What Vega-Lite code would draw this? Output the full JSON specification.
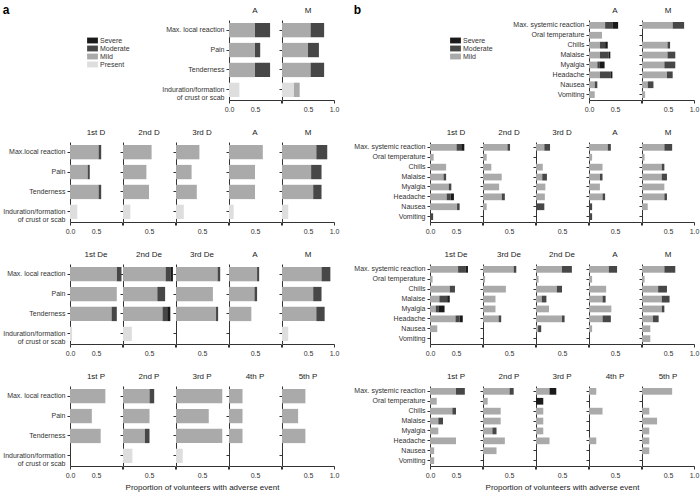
{
"padding":{"left":2,"top":4,"right":2,"bottom":2},
"config":{
"view":{"stroke":null},
"font":"Liberation Sans",
"axis":{"labelFont":"Liberation Sans","labelFontSize":7,"labelColor":"#333","domainColor":"#333","tickColor":"#333","tickSize":3,"grid":false,"labelPadding":2,"titleFont":"Liberation Sans","titleFontSize":8,"titleFontWeight":"normal","titleColor":"#222"},
"axisX":{"tickCount":2,"format":".1f","labelFlush":false,"labelOverlap":false,"titlePadding":5},
"axisY":{"labelLineHeight":8},
"title":{"font":"Liberation Sans","fontSize":8,"fontWeight":"normal","color":"#222","offset":5},
"legend":{"labelFont":"Liberation Sans","labelFontSize":7,"labelColor":"#333","symbolType":"M-1.2,-0.65H1.2V0.65H-1.2Z","symbolSize":81,"symbolStrokeWidth":0,"rowPadding":0,"labelOffset":3,"padding":16}
},
"datasets":{
"a":[
{"r":1,"p":"A","c":"Max. local reaction","s":"Mild","v":0.5,"k":1},
{"r":1,"p":"A","c":"Max. local reaction","s":"Moderate","v":0.29,"k":2},
{"r":1,"p":"A","c":"Pain","s":"Mild","v":0.5,"k":1},
{"r":1,"p":"A","c":"Pain","s":"Moderate","v":0.1,"k":2},
{"r":1,"p":"A","c":"Tenderness","s":"Mild","v":0.5,"k":1},
{"r":1,"p":"A","c":"Tenderness","s":"Moderate","v":0.29,"k":2},
{"r":1,"p":"A","c":"Induration/formation of crust or scab","s":"Present","v":0.2,"k":0},
{"r":1,"p":"M","c":"Max. local reaction","s":"Mild","v":0.55,"k":1},
{"r":1,"p":"M","c":"Max. local reaction","s":"Moderate","v":0.26,"k":2},
{"r":1,"p":"M","c":"Pain","s":"Mild","v":0.5,"k":1},
{"r":1,"p":"M","c":"Pain","s":"Moderate","v":0.21,"k":2},
{"r":1,"p":"M","c":"Tenderness","s":"Mild","v":0.55,"k":1},
{"r":1,"p":"M","c":"Tenderness","s":"Moderate","v":0.26,"k":2},
{"r":1,"p":"M","c":"Induration/formation of crust or scab","s":"Present","v":0.23,"k":0},
{"r":1,"p":"M","c":"Induration/formation of crust or scab","s":"Mild","v":0.11,"k":1},
{"r":2,"p":"1st D","c":"Max. local reaction","s":"Mild","v":0.55,"k":1},
{"r":2,"p":"1st D","c":"Max. local reaction","s":"Moderate","v":0.05,"k":2},
{"r":2,"p":"1st D","c":"Pain","s":"Mild","v":0.34,"k":1},
{"r":2,"p":"1st D","c":"Pain","s":"Moderate","v":0.04,"k":2},
{"r":2,"p":"1st D","c":"Tenderness","s":"Mild","v":0.55,"k":1},
{"r":2,"p":"1st D","c":"Tenderness","s":"Moderate","v":0.05,"k":2},
{"r":2,"p":"1st D","c":"Induration/formation of crust or scab","s":"Present","v":0.14,"k":0},
{"r":2,"p":"2nd D","c":"Max. local reaction","s":"Mild","v":0.55,"k":1},
{"r":2,"p":"2nd D","c":"Pain","s":"Mild","v":0.45,"k":1},
{"r":2,"p":"2nd D","c":"Tenderness","s":"Mild","v":0.5,"k":1},
{"r":2,"p":"2nd D","c":"Induration/formation of crust or scab","s":"Present","v":0.14,"k":0},
{"r":2,"p":"3rd D","c":"Max. local reaction","s":"Mild","v":0.45,"k":1},
{"r":2,"p":"3rd D","c":"Pain","s":"Mild","v":0.3,"k":1},
{"r":2,"p":"3rd D","c":"Tenderness","s":"Mild","v":0.4,"k":1},
{"r":2,"p":"3rd D","c":"Induration/formation of crust or scab","s":"Present","v":0.15,"k":0},
{"r":2,"p":"A","c":"Max. local reaction","s":"Mild","v":0.65,"k":1},
{"r":2,"p":"A","c":"Pain","s":"Mild","v":0.5,"k":1},
{"r":2,"p":"A","c":"Tenderness","s":"Mild","v":0.5,"k":1},
{"r":2,"p":"A","c":"Induration/formation of crust or scab","s":"Present","v":0.09,"k":0},
{"r":2,"p":"M","c":"Max. local reaction","s":"Mild","v":0.66,"k":1},
{"r":2,"p":"M","c":"Max. local reaction","s":"Moderate","v":0.21,"k":2},
{"r":2,"p":"M","c":"Pain","s":"Mild","v":0.56,"k":1},
{"r":2,"p":"M","c":"Pain","s":"Moderate","v":0.2,"k":2},
{"r":2,"p":"M","c":"Tenderness","s":"Mild","v":0.6,"k":1},
{"r":2,"p":"M","c":"Tenderness","s":"Moderate","v":0.16,"k":2},
{"r":2,"p":"M","c":"Induration/formation of crust or scab","s":"Present","v":0.12,"k":0},
{"r":3,"p":"1st De","c":"Max. local reaction","s":"Mild","v":0.9,"k":1},
{"r":3,"p":"1st De","c":"Max. local reaction","s":"Moderate","v":0.09,"k":2},
{"r":3,"p":"1st De","c":"Pain","s":"Mild","v":0.9,"k":1},
{"r":3,"p":"1st De","c":"Tenderness","s":"Mild","v":0.8,"k":1},
{"r":3,"p":"1st De","c":"Tenderness","s":"Moderate","v":0.1,"k":2},
{"r":3,"p":"1st De","c":"Induration/formation of crust or scab","s":"Present","v":0.04,"k":0},
{"r":3,"p":"2nd De","c":"Max. local reaction","s":"Mild","v":0.82,"k":1},
{"r":3,"p":"2nd De","c":"Max. local reaction","s":"Moderate","v":0.09,"k":2},
{"r":3,"p":"2nd De","c":"Max. local reaction","s":"Severe","v":0.05,"k":3},
{"r":3,"p":"2nd De","c":"Pain","s":"Mild","v":0.66,"k":1},
{"r":3,"p":"2nd De","c":"Pain","s":"Moderate","v":0.15,"k":2},
{"r":3,"p":"2nd De","c":"Tenderness","s":"Mild","v":0.76,"k":1},
{"r":3,"p":"2nd De","c":"Tenderness","s":"Moderate","v":0.09,"k":2},
{"r":3,"p":"2nd De","c":"Tenderness","s":"Severe","v":0.06,"k":3},
{"r":3,"p":"2nd De","c":"Induration/formation of crust or scab","s":"Present","v":0.17,"k":0},
{"r":3,"p":"3rd De","c":"Max. local reaction","s":"Mild","v":0.8,"k":1},
{"r":3,"p":"3rd De","c":"Max. local reaction","s":"Moderate","v":0.05,"k":2},
{"r":3,"p":"3rd De","c":"Pain","s":"Mild","v":0.71,"k":1},
{"r":3,"p":"3rd De","c":"Tenderness","s":"Mild","v":0.77,"k":1},
{"r":3,"p":"3rd De","c":"Tenderness","s":"Moderate","v":0.04,"k":2},
{"r":3,"p":"A","c":"Max. local reaction","s":"Mild","v":0.54,"k":1},
{"r":3,"p":"A","c":"Max. local reaction","s":"Moderate","v":0.04,"k":2},
{"r":3,"p":"A","c":"Pain","s":"Mild","v":0.49,"k":1},
{"r":3,"p":"A","c":"Pain","s":"Moderate","v":0.05,"k":2},
{"r":3,"p":"A","c":"Tenderness","s":"Mild","v":0.43,"k":1},
{"r":3,"p":"M","c":"Max. local reaction","s":"Mild","v":0.76,"k":1},
{"r":3,"p":"M","c":"Max. local reaction","s":"Moderate","v":0.17,"k":2},
{"r":3,"p":"M","c":"Pain","s":"Mild","v":0.6,"k":1},
{"r":3,"p":"M","c":"Pain","s":"Moderate","v":0.16,"k":2},
{"r":3,"p":"M","c":"Tenderness","s":"Mild","v":0.66,"k":1},
{"r":3,"p":"M","c":"Tenderness","s":"Moderate","v":0.16,"k":2},
{"r":3,"p":"M","c":"Induration/formation of crust or scab","s":"Present","v":0.12,"k":0},
{"r":4,"p":"1st P","c":"Max. local reaction","s":"Mild","v":0.68,"k":1},
{"r":4,"p":"1st P","c":"Pain","s":"Mild","v":0.42,"k":1},
{"r":4,"p":"1st P","c":"Tenderness","s":"Mild","v":0.59,"k":1},
{"r":4,"p":"2nd P","c":"Max. local reaction","s":"Mild","v":0.51,"k":1},
{"r":4,"p":"2nd P","c":"Max. local reaction","s":"Moderate","v":0.09,"k":2},
{"r":4,"p":"2nd P","c":"Pain","s":"Mild","v":0.51,"k":1},
{"r":4,"p":"2nd P","c":"Tenderness","s":"Mild","v":0.42,"k":1},
{"r":4,"p":"2nd P","c":"Tenderness","s":"Moderate","v":0.09,"k":2},
{"r":4,"p":"2nd P","c":"Induration/formation of crust or scab","s":"Present","v":0.18,"k":0},
{"r":4,"p":"3rd P","c":"Max. local reaction","s":"Mild","v":0.89,"k":1},
{"r":4,"p":"3rd P","c":"Pain","s":"Mild","v":0.63,"k":1},
{"r":4,"p":"3rd P","c":"Tenderness","s":"Mild","v":0.89,"k":1},
{"r":4,"p":"3rd P","c":"Induration/formation of crust or scab","s":"Present","v":0.13,"k":0},
{"r":4,"p":"4th P","c":"Max. local reaction","s":"Mild","v":0.26,"k":1},
{"r":4,"p":"4th P","c":"Pain","s":"Mild","v":0.26,"k":1},
{"r":4,"p":"4th P","c":"Tenderness","s":"Mild","v":0.26,"k":1},
{"r":4,"p":"5th P","c":"Max. local reaction","s":"Mild","v":0.45,"k":1},
{"r":4,"p":"5th P","c":"Pain","s":"Mild","v":0.31,"k":1},
{"r":4,"p":"5th P","c":"Tenderness","s":"Mild","v":0.45,"k":1}
],
"b":[
{"r":1,"p":"A","c":"Max. systemic reaction","s":"Mild","v":0.31,"k":1},
{"r":1,"p":"A","c":"Max. systemic reaction","s":"Moderate","v":0.15,"k":2},
{"r":1,"p":"A","c":"Max. systemic reaction","s":"Severe","v":0.1,"k":3},
{"r":1,"p":"A","c":"Oral temperature","s":"Mild","v":0.25,"k":1},
{"r":1,"p":"A","c":"Chills","s":"Mild","v":0.21,"k":1},
{"r":1,"p":"A","c":"Chills","s":"Moderate","v":0.1,"k":2},
{"r":1,"p":"A","c":"Chills","s":"Severe","v":0.05,"k":3},
{"r":1,"p":"A","c":"Malaise","s":"Mild","v":0.21,"k":1},
{"r":1,"p":"A","c":"Malaise","s":"Moderate","v":0.17,"k":2},
{"r":1,"p":"A","c":"Malaise","s":"Severe","v":0.03,"k":3},
{"r":1,"p":"A","c":"Myalgia","s":"Mild","v":0.16,"k":1},
{"r":1,"p":"A","c":"Myalgia","s":"Moderate","v":0.05,"k":2},
{"r":1,"p":"A","c":"Myalgia","s":"Severe","v":0.09,"k":3},
{"r":1,"p":"A","c":"Headache","s":"Mild","v":0.21,"k":1},
{"r":1,"p":"A","c":"Headache","s":"Moderate","v":0.21,"k":2},
{"r":1,"p":"A","c":"Headache","s":"Severe","v":0.03,"k":3},
{"r":1,"p":"A","c":"Nausea","s":"Mild","v":0.11,"k":1},
{"r":1,"p":"A","c":"Nausea","s":"Moderate","v":0.05,"k":2},
{"r":1,"p":"A","c":"Vomiting","s":"Mild","v":0.11,"k":1},
{"r":1,"p":"M","c":"Max. systemic reaction","s":"Mild","v":0.59,"k":1},
{"r":1,"p":"M","c":"Max. systemic reaction","s":"Moderate","v":0.22,"k":2},
{"r":1,"p":"M","c":"Chills","s":"Mild","v":0.49,"k":1},
{"r":1,"p":"M","c":"Chills","s":"Moderate","v":0.05,"k":2},
{"r":1,"p":"M","c":"Malaise","s":"Mild","v":0.49,"k":1},
{"r":1,"p":"M","c":"Malaise","s":"Moderate","v":0.15,"k":2},
{"r":1,"p":"M","c":"Myalgia","s":"Mild","v":0.43,"k":1},
{"r":1,"p":"M","c":"Myalgia","s":"Moderate","v":0.21,"k":2},
{"r":1,"p":"M","c":"Headache","s":"Mild","v":0.48,"k":1},
{"r":1,"p":"M","c":"Headache","s":"Moderate","v":0.11,"k":2},
{"r":1,"p":"M","c":"Nausea","s":"Mild","v":0.11,"k":1},
{"r":1,"p":"M","c":"Nausea","s":"Moderate","v":0.11,"k":2},
{"r":1,"p":"M","c":"Vomiting","s":"Mild","v":0.06,"k":1},
{"r":2,"p":"1st D","c":"Max. systemic reaction","s":"Mild","v":0.51,"k":1},
{"r":2,"p":"1st D","c":"Max. systemic reaction","s":"Moderate","v":0.09,"k":2},
{"r":2,"p":"1st D","c":"Max. systemic reaction","s":"Severe","v":0.06,"k":3},
{"r":2,"p":"1st D","c":"Oral temperature","s":"Mild","v":0.07,"k":1},
{"r":2,"p":"1st D","c":"Chills","s":"Mild","v":0.31,"k":1},
{"r":2,"p":"1st D","c":"Malaise","s":"Mild","v":0.26,"k":1},
{"r":2,"p":"1st D","c":"Malaise","s":"Moderate","v":0.05,"k":2},
{"r":2,"p":"1st D","c":"Myalgia","s":"Mild","v":0.36,"k":1},
{"r":2,"p":"1st D","c":"Myalgia","s":"Moderate","v":0.05,"k":2},
{"r":2,"p":"1st D","c":"Headache","s":"Mild","v":0.32,"k":1},
{"r":2,"p":"1st D","c":"Headache","s":"Moderate","v":0.08,"k":2},
{"r":2,"p":"1st D","c":"Headache","s":"Severe","v":0.06,"k":3},
{"r":2,"p":"1st D","c":"Nausea","s":"Mild","v":0.52,"k":1},
{"r":2,"p":"1st D","c":"Nausea","s":"Moderate","v":0.05,"k":2},
{"r":2,"p":"1st D","c":"Vomiting","s":"Moderate","v":0.06,"k":2},
{"r":2,"p":"2nd D","c":"Max. systemic reaction","s":"Mild","v":0.47,"k":1},
{"r":2,"p":"2nd D","c":"Max. systemic reaction","s":"Moderate","v":0.05,"k":2},
{"r":2,"p":"2nd D","c":"Oral temperature","s":"Mild","v":0.07,"k":1},
{"r":2,"p":"2nd D","c":"Chills","s":"Mild","v":0.16,"k":1},
{"r":2,"p":"2nd D","c":"Malaise","s":"Mild","v":0.36,"k":1},
{"r":2,"p":"2nd D","c":"Myalgia","s":"Mild","v":0.31,"k":1},
{"r":2,"p":"2nd D","c":"Headache","s":"Mild","v":0.36,"k":1},
{"r":2,"p":"2nd D","c":"Headache","s":"Moderate","v":0.06,"k":2},
{"r":2,"p":"2nd D","c":"Nausea","s":"Mild","v":0.07,"k":1},
{"r":2,"p":"3rd D","c":"Max. systemic reaction","s":"Mild","v":0.16,"k":1},
{"r":2,"p":"3rd D","c":"Max. systemic reaction","s":"Moderate","v":0.11,"k":2},
{"r":2,"p":"3rd D","c":"Chills","s":"Mild","v":0.13,"k":1},
{"r":2,"p":"3rd D","c":"Malaise","s":"Mild","v":0.12,"k":1},
{"r":2,"p":"3rd D","c":"Malaise","s":"Moderate","v":0.09,"k":2},
{"r":2,"p":"3rd D","c":"Myalgia","s":"Mild","v":0.18,"k":1},
{"r":2,"p":"3rd D","c":"Headache","s":"Mild","v":0.17,"k":1},
{"r":2,"p":"3rd D","c":"Nausea","s":"Moderate","v":0.16,"k":2},
{"r":2,"p":"A","c":"Max. systemic reaction","s":"Mild","v":0.36,"k":1},
{"r":2,"p":"A","c":"Max. systemic reaction","s":"Moderate","v":0.06,"k":2},
{"r":2,"p":"A","c":"Oral temperature","s":"Mild","v":0.06,"k":1},
{"r":2,"p":"A","c":"Chills","s":"Mild","v":0.26,"k":1},
{"r":2,"p":"A","c":"Malaise","s":"Mild","v":0.21,"k":1},
{"r":2,"p":"A","c":"Malaise","s":"Moderate","v":0.05,"k":2},
{"r":2,"p":"A","c":"Myalgia","s":"Mild","v":0.21,"k":1},
{"r":2,"p":"A","c":"Headache","s":"Mild","v":0.26,"k":1},
{"r":2,"p":"A","c":"Headache","s":"Moderate","v":0.05,"k":2},
{"r":2,"p":"A","c":"Nausea","s":"Moderate","v":0.06,"k":2},
{"r":2,"p":"A","c":"Vomiting","s":"Moderate","v":0.06,"k":2},
{"r":2,"p":"M","c":"Max. systemic reaction","s":"Mild","v":0.43,"k":1},
{"r":2,"p":"M","c":"Max. systemic reaction","s":"Moderate","v":0.15,"k":2},
{"r":2,"p":"M","c":"Oral temperature","s":"Mild","v":0.05,"k":1},
{"r":2,"p":"M","c":"Chills","s":"Mild","v":0.38,"k":1},
{"r":2,"p":"M","c":"Chills","s":"Moderate","v":0.05,"k":2},
{"r":2,"p":"M","c":"Malaise","s":"Mild","v":0.38,"k":1},
{"r":2,"p":"M","c":"Malaise","s":"Moderate","v":0.1,"k":2},
{"r":2,"p":"M","c":"Myalgia","s":"Mild","v":0.43,"k":1},
{"r":2,"p":"M","c":"Headache","s":"Mild","v":0.43,"k":1},
{"r":2,"p":"M","c":"Headache","s":"Moderate","v":0.05,"k":2},
{"r":2,"p":"M","c":"Nausea","s":"Mild","v":0.11,"k":1},
{"r":3,"p":"1st De","c":"Max. systemic reaction","s":"Mild","v":0.54,"k":1},
{"r":3,"p":"1st De","c":"Max. systemic reaction","s":"Moderate","v":0.15,"k":2},
{"r":3,"p":"1st De","c":"Max. systemic reaction","s":"Severe","v":0.04,"k":3},
{"r":3,"p":"1st De","c":"Oral temperature","s":"Mild","v":0.05,"k":1},
{"r":3,"p":"1st De","c":"Chills","s":"Mild","v":0.38,"k":1},
{"r":3,"p":"1st De","c":"Chills","s":"Moderate","v":0.1,"k":2},
{"r":3,"p":"1st De","c":"Malaise","s":"Mild","v":0.18,"k":1},
{"r":3,"p":"1st De","c":"Malaise","s":"Moderate","v":0.15,"k":2},
{"r":3,"p":"1st De","c":"Malaise","s":"Severe","v":0.05,"k":3},
{"r":3,"p":"1st De","c":"Myalgia","s":"Mild","v":0.11,"k":1},
{"r":3,"p":"1st De","c":"Myalgia","s":"Moderate","v":0.05,"k":2},
{"r":3,"p":"1st De","c":"Myalgia","s":"Severe","v":0.12,"k":3},
{"r":3,"p":"1st De","c":"Headache","s":"Mild","v":0.49,"k":1},
{"r":3,"p":"1st De","c":"Headache","s":"Moderate","v":0.08,"k":2},
{"r":3,"p":"1st De","c":"Headache","s":"Severe","v":0.06,"k":3},
{"r":3,"p":"1st De","c":"Nausea","s":"Mild","v":0.14,"k":1},
{"r":3,"p":"3rd De","c":"Max. systemic reaction","s":"Mild","v":0.59,"k":1},
{"r":3,"p":"3rd De","c":"Max. systemic reaction","s":"Moderate","v":0.05,"k":2},
{"r":3,"p":"3rd De","c":"Oral temperature","s":"Mild","v":0.04,"k":1},
{"r":3,"p":"3rd De","c":"Chills","s":"Mild","v":0.44,"k":1},
{"r":3,"p":"3rd De","c":"Malaise","s":"Mild","v":0.24,"k":1},
{"r":3,"p":"3rd De","c":"Myalgia","s":"Mild","v":0.24,"k":1},
{"r":3,"p":"3rd De","c":"Headache","s":"Mild","v":0.3,"k":1},
{"r":3,"p":"3rd De","c":"Headache","s":"Moderate","v":0.05,"k":2},
{"r":3,"p":"2nd De","c":"Max. systemic reaction","s":"Mild","v":0.5,"k":1},
{"r":3,"p":"2nd De","c":"Max. systemic reaction","s":"Moderate","v":0.19,"k":2},
{"r":3,"p":"2nd De","c":"Oral temperature","s":"Mild","v":0.05,"k":1},
{"r":3,"p":"2nd De","c":"Chills","s":"Mild","v":0.4,"k":1},
{"r":3,"p":"2nd De","c":"Chills","s":"Moderate","v":0.1,"k":2},
{"r":3,"p":"2nd De","c":"Malaise","s":"Mild","v":0.11,"k":1},
{"r":3,"p":"2nd De","c":"Malaise","s":"Moderate","v":0.09,"k":2},
{"r":3,"p":"2nd De","c":"Myalgia","s":"Mild","v":0.25,"k":1},
{"r":3,"p":"2nd De","c":"Headache","s":"Mild","v":0.5,"k":1},
{"r":3,"p":"2nd De","c":"Headache","s":"Moderate","v":0.05,"k":2},
{"r":3,"p":"2nd De","c":"Nausea","s":"Mild","v":0.04,"k":1},
{"r":3,"p":"2nd De","c":"Nausea","s":"Moderate","v":0.06,"k":2},
{"r":3,"p":"A","c":"Max. systemic reaction","s":"Mild","v":0.38,"k":1},
{"r":3,"p":"A","c":"Max. systemic reaction","s":"Moderate","v":0.16,"k":2},
{"r":3,"p":"A","c":"Oral temperature","s":"Mild","v":0.06,"k":1},
{"r":3,"p":"A","c":"Chills","s":"Mild","v":0.33,"k":1},
{"r":3,"p":"A","c":"Malaise","s":"Mild","v":0.26,"k":1},
{"r":3,"p":"A","c":"Malaise","s":"Moderate","v":0.06,"k":2},
{"r":3,"p":"A","c":"Myalgia","s":"Mild","v":0.43,"k":1},
{"r":3,"p":"A","c":"Headache","s":"Mild","v":0.26,"k":1},
{"r":3,"p":"A","c":"Headache","s":"Moderate","v":0.16,"k":2},
{"r":3,"p":"A","c":"Nausea","s":"Mild","v":0.06,"k":1},
{"r":3,"p":"M","c":"Max. systemic reaction","s":"Mild","v":0.43,"k":1},
{"r":3,"p":"M","c":"Max. systemic reaction","s":"Moderate","v":0.21,"k":2},
{"r":3,"p":"M","c":"Oral temperature","s":"Mild","v":0.05,"k":1},
{"r":3,"p":"M","c":"Chills","s":"Mild","v":0.31,"k":1},
{"r":3,"p":"M","c":"Chills","s":"Moderate","v":0.17,"k":2},
{"r":3,"p":"M","c":"Malaise","s":"Mild","v":0.38,"k":1},
{"r":3,"p":"M","c":"Malaise","s":"Moderate","v":0.15,"k":2},
{"r":3,"p":"M","c":"Myalgia","s":"Mild","v":0.38,"k":1},
{"r":3,"p":"M","c":"Myalgia","s":"Moderate","v":0.05,"k":2},
{"r":3,"p":"M","c":"Headache","s":"Mild","v":0.21,"k":1},
{"r":3,"p":"M","c":"Headache","s":"Moderate","v":0.11,"k":2},
{"r":3,"p":"M","c":"Nausea","s":"Mild","v":0.16,"k":1},
{"r":3,"p":"M","c":"Vomiting","s":"Mild","v":0.16,"k":1},
{"r":4,"p":"1st P","c":"Max. systemic reaction","s":"Mild","v":0.5,"k":1},
{"r":4,"p":"1st P","c":"Max. systemic reaction","s":"Moderate","v":0.17,"k":2},
{"r":4,"p":"1st P","c":"Oral temperature","s":"Mild","v":0.13,"k":1},
{"r":4,"p":"1st P","c":"Chills","s":"Mild","v":0.43,"k":1},
{"r":4,"p":"1st P","c":"Chills","s":"Moderate","v":0.07,"k":2},
{"r":4,"p":"1st P","c":"Malaise","s":"Mild","v":0.16,"k":1},
{"r":4,"p":"1st P","c":"Malaise","s":"Moderate","v":0.09,"k":2},
{"r":4,"p":"1st P","c":"Myalgia","s":"Mild","v":0.16,"k":1},
{"r":4,"p":"1st P","c":"Headache","s":"Mild","v":0.5,"k":1},
{"r":4,"p":"1st P","c":"Nausea","s":"Mild","v":0.08,"k":1},
{"r":4,"p":"1st P","c":"Vomiting","s":"Mild","v":0.08,"k":1},
{"r":4,"p":"2nd P","c":"Max. systemic reaction","s":"Mild","v":0.51,"k":1},
{"r":4,"p":"2nd P","c":"Max. systemic reaction","s":"Moderate","v":0.08,"k":2},
{"r":4,"p":"2nd P","c":"Oral temperature","s":"Mild","v":0.09,"k":1},
{"r":4,"p":"2nd P","c":"Chills","s":"Mild","v":0.34,"k":1},
{"r":4,"p":"2nd P","c":"Malaise","s":"Mild","v":0.34,"k":1},
{"r":4,"p":"2nd P","c":"Myalgia","s":"Mild","v":0.18,"k":1},
{"r":4,"p":"2nd P","c":"Myalgia","s":"Moderate","v":0.08,"k":2},
{"r":4,"p":"2nd P","c":"Headache","s":"Mild","v":0.42,"k":1},
{"r":4,"p":"2nd P","c":"Nausea","s":"Mild","v":0.26,"k":1},
{"r":4,"p":"3rd P","c":"Max. systemic reaction","s":"Mild","v":0.26,"k":1},
{"r":4,"p":"3rd P","c":"Max. systemic reaction","s":"Severe","v":0.13,"k":3},
{"r":4,"p":"3rd P","c":"Oral temperature","s":"Severe","v":0.14,"k":3},
{"r":4,"p":"3rd P","c":"Chills","s":"Mild","v":0.14,"k":1},
{"r":4,"p":"3rd P","c":"Malaise","s":"Mild","v":0.14,"k":1},
{"r":4,"p":"3rd P","c":"Myalgia","s":"Mild","v":0.14,"k":1},
{"r":4,"p":"3rd P","c":"Headache","s":"Mild","v":0.26,"k":1},
{"r":4,"p":"4th P","c":"Max. systemic reaction","s":"Mild","v":0.14,"k":1},
{"r":4,"p":"4th P","c":"Chills","s":"Mild","v":0.26,"k":1},
{"r":4,"p":"4th P","c":"Headache","s":"Mild","v":0.14,"k":1},
{"r":4,"p":"5th P","c":"Max. systemic reaction","s":"Mild","v":0.58,"k":1},
{"r":4,"p":"5th P","c":"Chills","s":"Mild","v":0.14,"k":1},
{"r":4,"p":"5th P","c":"Malaise","s":"Mild","v":0.29,"k":1},
{"r":4,"p":"5th P","c":"Myalgia","s":"Mild","v":0.14,"k":1},
{"r":4,"p":"5th P","c":"Headache","s":"Mild","v":0.14,"k":1},
{"r":4,"p":"5th P","c":"Nausea","s":"Mild","v":0.14,"k":1}
]
},
"hconcat":[
{
"title":{"text":"a","anchor":"start","fontSize":12,"fontWeight":"bold","color":"#000","offset":-10},
"columns":5,"bounds":"flush","align":"all","spacing":{"row":42,"column":1},
"resolve":{"scale":{"color":"independent"},"legend":{"color":"independent"}},
"concat":[
{"width":52,"height":80,"data":{"values":[]},"mark":"point"},
{"width":52,"height":80,"data":{"values":[]},"mark":"point"},
{"width":52,"height":80,"data":{"values":[]},"mark":"point"},
{"width":52,"height":80,"title":"A","data":{"name":"a"},"transform":[{"filter":"datum.r==1&&datum.p=='A'"}],"mark":"bar","encoding":{"y":{"field":"c","type":"nominal","title":null,"scale":{"domain":["Max. local reaction","Pain","Tenderness","Induration/formation of crust or scab"],"paddingInner":0.28,"paddingOuter":0.15},"axis":{"labelExpr":"datum.value=='Induration/formation of crust or scab'?['Induration/formation','of crust or scab']:datum.value"}},"x":{"field":"v","type":"quantitative","title":null,"scale":{"domain":[0,1]},"axis":{"labelExpr":"datum.value==1?'':datum.label","tickOpacity":{"condition":{"test":"datum.value==0.5","value":0},"value":1}}},"color":{"field":"s","type":"nominal","title":null,"scale":{"domain":["Severe","Moderate","Mild","Present"],"range":["#1a1a1a","#474747","#aaaaaa","#dedede"]},"legend":{"orient":"left","offset":15}},"order":{"field":"k"}}},
{"width":52,"height":80,"title":"M","data":{"name":"a"},"transform":[{"filter":"datum.r==1&&datum.p=='M'"}],"mark":"bar","encoding":{"y":{"field":"c","type":"nominal","title":null,"scale":{"domain":["Max. local reaction","Pain","Tenderness","Induration/formation of crust or scab"],"paddingInner":0.28,"paddingOuter":0.15},"axis":{"labels":false}},"x":{"field":"v","type":"quantitative","title":null,"scale":{"domain":[0,1]},"axis":{"labelExpr":"datum.value==0?'':datum.label","tickOpacity":{"condition":{"test":"datum.value==0.5","value":0},"value":1}}},"color":{"field":"s","type":"nominal","title":null,"scale":{"domain":["Severe","Moderate","Mild","Present"],"range":["#1a1a1a","#474747","#aaaaaa","#dedede"]},"legend":null},"order":{"field":"k"}}},
{"width":52,"height":80,"title":"1st D","data":{"name":"a"},"transform":[{"filter":"datum.r==2&&datum.p=='1st D'"}],"mark":"bar","encoding":{"y":{"field":"c","type":"nominal","title":null,"scale":{"domain":["Max. local reaction","Pain","Tenderness","Induration/formation of crust or scab"],"paddingInner":0.28,"paddingOuter":0.15},"axis":{"labelExpr":"datum.value=='Induration/formation of crust or scab'?['Induration/formation','of crust or scab']:datum.value=='Max. local reaction'?'Max.local reaction':datum.value"}},"x":{"field":"v","type":"quantitative","title":null,"scale":{"domain":[0,1]},"axis":{"labelExpr":"datum.value==1?'':datum.label","tickOpacity":{"condition":{"test":"datum.value==0.5","value":0},"value":1}}},"color":{"field":"s","type":"nominal","title":null,"scale":{"domain":["Severe","Moderate","Mild","Present"],"range":["#1a1a1a","#474747","#aaaaaa","#dedede"]},"legend":null},"order":{"field":"k"}}},
{"width":52,"height":80,"title":"2nd D","data":{"name":"a"},"transform":[{"filter":"datum.r==2&&datum.p=='2nd D'"}],"mark":"bar","encoding":{"y":{"field":"c","type":"nominal","title":null,"scale":{"domain":["Max. local reaction","Pain","Tenderness","Induration/formation of crust or scab"],"paddingInner":0.28,"paddingOuter":0.15},"axis":{"labels":false}},"x":{"field":"v","type":"quantitative","title":null,"scale":{"domain":[0,1]},"axis":{"labelExpr":"datum.value==0.5?datum.label:''","tickOpacity":{"condition":{"test":"datum.value==0.5","value":0},"value":1}}},"color":{"field":"s","type":"nominal","title":null,"scale":{"domain":["Severe","Moderate","Mild","Present"],"range":["#1a1a1a","#474747","#aaaaaa","#dedede"]},"legend":null},"order":{"field":"k"}}},
{"width":52,"height":80,"title":"3rd D","data":{"name":"a"},"transform":[{"filter":"datum.r==2&&datum.p=='3rd D'"}],"mark":"bar","encoding":{"y":{"field":"c","type":"nominal","title":null,"scale":{"domain":["Max. local reaction","Pain","Tenderness","Induration/formation of crust or scab"],"paddingInner":0.28,"paddingOuter":0.15},"axis":{"labels":false}},"x":{"field":"v","type":"quantitative","title":null,"scale":{"domain":[0,1]},"axis":{"labelExpr":"datum.value==0.5?datum.label:''","tickOpacity":{"condition":{"test":"datum.value==0.5","value":0},"value":1}}},"color":{"field":"s","type":"nominal","title":null,"scale":{"domain":["Severe","Moderate","Mild","Present"],"range":["#1a1a1a","#474747","#aaaaaa","#dedede"]},"legend":null},"order":{"field":"k"}}},
{"width":52,"height":80,"title":"A","data":{"name":"a"},"transform":[{"filter":"datum.r==2&&datum.p=='A'"}],"mark":"bar","encoding":{"y":{"field":"c","type":"nominal","title":null,"scale":{"domain":["Max. local reaction","Pain","Tenderness","Induration/formation of crust or scab"],"paddingInner":0.28,"paddingOuter":0.15},"axis":{"labels":false}},"x":{"field":"v","type":"quantitative","title":null,"scale":{"domain":[0,1]},"axis":{"labelExpr":"datum.value==0.5?datum.label:''","tickOpacity":{"condition":{"test":"datum.value==0.5","value":0},"value":1}}},"color":{"field":"s","type":"nominal","title":null,"scale":{"domain":["Severe","Moderate","Mild","Present"],"range":["#1a1a1a","#474747","#aaaaaa","#dedede"]},"legend":null},"order":{"field":"k"}}},
{"width":52,"height":80,"title":"M","data":{"name":"a"},"transform":[{"filter":"datum.r==2&&datum.p=='M'"}],"mark":"bar","encoding":{"y":{"field":"c","type":"nominal","title":null,"scale":{"domain":["Max. local reaction","Pain","Tenderness","Induration/formation of crust or scab"],"paddingInner":0.28,"paddingOuter":0.15},"axis":{"labels":false}},"x":{"field":"v","type":"quantitative","title":null,"scale":{"domain":[0,1]},"axis":{"labelExpr":"datum.value==0?'':datum.label","tickOpacity":{"condition":{"test":"datum.value==0.5","value":0},"value":1}}},"color":{"field":"s","type":"nominal","title":null,"scale":{"domain":["Severe","Moderate","Mild","Present"],"range":["#1a1a1a","#474747","#aaaaaa","#dedede"]},"legend":null},"order":{"field":"k"}}},
{"width":52,"height":80,"title":"1st De","data":{"name":"a"},"transform":[{"filter":"datum.r==3&&datum.p=='1st De'"}],"mark":"bar","encoding":{"y":{"field":"c","type":"nominal","title":null,"scale":{"domain":["Max. local reaction","Pain","Tenderness","Induration/formation of crust or scab"],"paddingInner":0.28,"paddingOuter":0.15},"axis":{"labelExpr":"datum.value=='Induration/formation of crust or scab'?['Induration/formation','of crust or scab']:datum.value"}},"x":{"field":"v","type":"quantitative","title":null,"scale":{"domain":[0,1]},"axis":{"labelExpr":"datum.value==1?'':datum.label","tickOpacity":{"condition":{"test":"datum.value==0.5","value":0},"value":1}}},"color":{"field":"s","type":"nominal","title":null,"scale":{"domain":["Severe","Moderate","Mild","Present"],"range":["#1a1a1a","#474747","#aaaaaa","#dedede"]},"legend":null},"order":{"field":"k"}}},
{"width":52,"height":80,"title":"2nd De","data":{"name":"a"},"transform":[{"filter":"datum.r==3&&datum.p=='2nd De'"}],"mark":"bar","encoding":{"y":{"field":"c","type":"nominal","title":null,"scale":{"domain":["Max. local reaction","Pain","Tenderness","Induration/formation of crust or scab"],"paddingInner":0.28,"paddingOuter":0.15},"axis":{"labels":false}},"x":{"field":"v","type":"quantitative","title":null,"scale":{"domain":[0,1]},"axis":{"labelExpr":"datum.value==0.5?datum.label:''","tickOpacity":{"condition":{"test":"datum.value==0.5","value":0},"value":1}}},"color":{"field":"s","type":"nominal","title":null,"scale":{"domain":["Severe","Moderate","Mild","Present"],"range":["#1a1a1a","#474747","#aaaaaa","#dedede"]},"legend":null},"order":{"field":"k"}}},
{"width":52,"height":80,"title":"3rd De","data":{"name":"a"},"transform":[{"filter":"datum.r==3&&datum.p=='3rd De'"}],"mark":"bar","encoding":{"y":{"field":"c","type":"nominal","title":null,"scale":{"domain":["Max. local reaction","Pain","Tenderness","Induration/formation of crust or scab"],"paddingInner":0.28,"paddingOuter":0.15},"axis":{"labels":false}},"x":{"field":"v","type":"quantitative","title":null,"scale":{"domain":[0,1]},"axis":{"labelExpr":"datum.value==0.5?datum.label:''","tickOpacity":{"condition":{"test":"datum.value==0.5","value":0},"value":1}}},"color":{"field":"s","type":"nominal","title":null,"scale":{"domain":["Severe","Moderate","Mild","Present"],"range":["#1a1a1a","#474747","#aaaaaa","#dedede"]},"legend":null},"order":{"field":"k"}}},
{"width":52,"height":80,"title":"A","data":{"name":"a"},"transform":[{"filter":"datum.r==3&&datum.p=='A'"}],"mark":"bar","encoding":{"y":{"field":"c","type":"nominal","title":null,"scale":{"domain":["Max. local reaction","Pain","Tenderness","Induration/formation of crust or scab"],"paddingInner":0.28,"paddingOuter":0.15},"axis":{"labels":false}},"x":{"field":"v","type":"quantitative","title":null,"scale":{"domain":[0,1]},"axis":{"labelExpr":"datum.value==0.5?datum.label:''","tickOpacity":{"condition":{"test":"datum.value==0.5","value":0},"value":1}}},"color":{"field":"s","type":"nominal","title":null,"scale":{"domain":["Severe","Moderate","Mild","Present"],"range":["#1a1a1a","#474747","#aaaaaa","#dedede"]},"legend":null},"order":{"field":"k"}}},
{"width":52,"height":80,"title":"M","data":{"name":"a"},"transform":[{"filter":"datum.r==3&&datum.p=='M'"}],"mark":"bar","encoding":{"y":{"field":"c","type":"nominal","title":null,"scale":{"domain":["Max. local reaction","Pain","Tenderness","Induration/formation of crust or scab"],"paddingInner":0.28,"paddingOuter":0.15},"axis":{"labels":false}},"x":{"field":"v","type":"quantitative","title":null,"scale":{"domain":[0,1]},"axis":{"labelExpr":"datum.value==0?'':datum.label","tickOpacity":{"condition":{"test":"datum.value==0.5","value":0},"value":1}}},"color":{"field":"s","type":"nominal","title":null,"scale":{"domain":["Severe","Moderate","Mild","Present"],"range":["#1a1a1a","#474747","#aaaaaa","#dedede"]},"legend":null},"order":{"field":"k"}}},
{"width":52,"height":80,"title":"1st P","data":{"name":"a"},"transform":[{"filter":"datum.r==4&&datum.p=='1st P'"}],"mark":"bar","encoding":{"y":{"field":"c","type":"nominal","title":null,"scale":{"domain":["Max. local reaction","Pain","Tenderness","Induration/formation of crust or scab"],"paddingInner":0.28,"paddingOuter":0.15},"axis":{"labelExpr":"datum.value=='Induration/formation of crust or scab'?['Induration/formation','of crust or scab']:datum.value"}},"x":{"field":"v","type":"quantitative","title":null,"scale":{"domain":[0,1]},"axis":{"labelExpr":"datum.value==1?'':datum.label","tickOpacity":{"condition":{"test":"datum.value==0.5","value":0},"value":1}}},"color":{"field":"s","type":"nominal","title":null,"scale":{"domain":["Severe","Moderate","Mild","Present"],"range":["#1a1a1a","#474747","#aaaaaa","#dedede"]},"legend":null},"order":{"field":"k"}}},
{"width":52,"height":80,"title":"2nd P","data":{"name":"a"},"transform":[{"filter":"datum.r==4&&datum.p=='2nd P'"}],"mark":"bar","encoding":{"y":{"field":"c","type":"nominal","title":null,"scale":{"domain":["Max. local reaction","Pain","Tenderness","Induration/formation of crust or scab"],"paddingInner":0.28,"paddingOuter":0.15},"axis":{"labels":false}},"x":{"field":"v","type":"quantitative","title":null,"scale":{"domain":[0,1]},"axis":{"labelExpr":"datum.value==0.5?datum.label:''","tickOpacity":{"condition":{"test":"datum.value==0.5","value":0},"value":1}}},"color":{"field":"s","type":"nominal","title":null,"scale":{"domain":["Severe","Moderate","Mild","Present"],"range":["#1a1a1a","#474747","#aaaaaa","#dedede"]},"legend":null},"order":{"field":"k"}}},
{"width":52,"height":80,"title":"3rd P","data":{"name":"a"},"transform":[{"filter":"datum.r==4&&datum.p=='3rd P'"}],"mark":"bar","encoding":{"y":{"field":"c","type":"nominal","title":null,"scale":{"domain":["Max. local reaction","Pain","Tenderness","Induration/formation of crust or scab"],"paddingInner":0.28,"paddingOuter":0.15},"axis":{"labels":false}},"x":{"field":"v","type":"quantitative","title":"Proportion of volunteers with adverse event","scale":{"domain":[0,1]},"axis":{"labelExpr":"datum.value==0.5?datum.label:''","tickOpacity":{"condition":{"test":"datum.value==0.5","value":0},"value":1}}},"color":{"field":"s","type":"nominal","title":null,"scale":{"domain":["Severe","Moderate","Mild","Present"],"range":["#1a1a1a","#474747","#aaaaaa","#dedede"]},"legend":null},"order":{"field":"k"}}},
{"width":52,"height":80,"title":"4th P","data":{"name":"a"},"transform":[{"filter":"datum.r==4&&datum.p=='4th P'"}],"mark":"bar","encoding":{"y":{"field":"c","type":"nominal","title":null,"scale":{"domain":["Max. local reaction","Pain","Tenderness","Induration/formation of crust or scab"],"paddingInner":0.28,"paddingOuter":0.15},"axis":{"labels":false}},"x":{"field":"v","type":"quantitative","title":null,"scale":{"domain":[0,1]},"axis":{"labelExpr":"datum.value==0.5?datum.label:''","tickOpacity":{"condition":{"test":"datum.value==0.5","value":0},"value":1}}},"color":{"field":"s","type":"nominal","title":null,"scale":{"domain":["Severe","Moderate","Mild","Present"],"range":["#1a1a1a","#474747","#aaaaaa","#dedede"]},"legend":null},"order":{"field":"k"}}},
{"width":52,"height":80,"title":"5th P","data":{"name":"a"},"transform":[{"filter":"datum.r==4&&datum.p=='5th P'"}],"mark":"bar","encoding":{"y":{"field":"c","type":"nominal","title":null,"scale":{"domain":["Max. local reaction","Pain","Tenderness","Induration/formation of crust or scab"],"paddingInner":0.28,"paddingOuter":0.15},"axis":{"labels":false}},"x":{"field":"v","type":"quantitative","title":null,"scale":{"domain":[0,1]},"axis":{"labelExpr":"datum.value==0?'':datum.label","tickOpacity":{"condition":{"test":"datum.value==0.5","value":0},"value":1}}},"color":{"field":"s","type":"nominal","title":null,"scale":{"domain":["Severe","Moderate","Mild","Present"],"range":["#1a1a1a","#474747","#aaaaaa","#dedede"]},"legend":null},"order":{"field":"k"}}}
]
},
{
"title":{"text":"b","anchor":"start","fontSize":12,"fontWeight":"bold","color":"#000","offset":-10},
"columns":5,"bounds":"flush","align":"all","spacing":{"row":42,"column":1},
"resolve":{"scale":{"color":"independent"},"legend":{"color":"independent"}},
"concat":[
{"width":52,"height":80,"data":{"values":[]},"mark":"point"},
{"width":52,"height":80,"data":{"values":[]},"mark":"point"},
{"width":52,"height":80,"data":{"values":[]},"mark":"point"},
{"width":52,"height":80,"title":"A","data":{"name":"b"},"transform":[{"filter":"datum.r==1&&datum.p=='A'"}],"mark":"bar","encoding":{"y":{"field":"c","type":"nominal","title":null,"scale":{"domain":["Max. systemic reaction","Oral temperature","Chills","Malaise","Myalgia","Headache","Nausea","Vomiting"],"paddingInner":0.32,"paddingOuter":0.2},"axis":{}},"x":{"field":"v","type":"quantitative","title":null,"scale":{"domain":[0,1]},"axis":{"labelExpr":"datum.value==1?'':datum.label","tickOpacity":{"condition":{"test":"datum.value==0.5","value":0},"value":1}}},"color":{"field":"s","type":"nominal","title":null,"scale":{"domain":["Severe","Moderate","Mild"],"range":["#1a1a1a","#474747","#aaaaaa"]},"legend":{"orient":"left","offset":3}},"order":{"field":"k"}}},
{"width":52,"height":80,"title":"M","data":{"name":"b"},"transform":[{"filter":"datum.r==1&&datum.p=='M'"}],"mark":"bar","encoding":{"y":{"field":"c","type":"nominal","title":null,"scale":{"domain":["Max. systemic reaction","Oral temperature","Chills","Malaise","Myalgia","Headache","Nausea","Vomiting"],"paddingInner":0.32,"paddingOuter":0.2},"axis":{"labels":false}},"x":{"field":"v","type":"quantitative","title":null,"scale":{"domain":[0,1]},"axis":{"labelExpr":"datum.value==0?'':datum.label","tickOpacity":{"condition":{"test":"datum.value==0.5","value":0},"value":1}}},"color":{"field":"s","type":"nominal","title":null,"scale":{"domain":["Severe","Moderate","Mild"],"range":["#1a1a1a","#474747","#aaaaaa"]},"legend":null},"order":{"field":"k"}}},
{"width":52,"height":80,"title":"1st D","data":{"name":"b"},"transform":[{"filter":"datum.r==2&&datum.p=='1st D'"}],"mark":"bar","encoding":{"y":{"field":"c","type":"nominal","title":null,"scale":{"domain":["Max. systemic reaction","Oral temperature","Chills","Malaise","Myalgia","Headache","Nausea","Vomiting"],"paddingInner":0.32,"paddingOuter":0.2},"axis":{}},"x":{"field":"v","type":"quantitative","title":null,"scale":{"domain":[0,1]},"axis":{"labelExpr":"datum.value==1?'':datum.label","tickOpacity":{"condition":{"test":"datum.value==0.5","value":0},"value":1}}},"color":{"field":"s","type":"nominal","title":null,"scale":{"domain":["Severe","Moderate","Mild"],"range":["#1a1a1a","#474747","#aaaaaa"]},"legend":null},"order":{"field":"k"}}},
{"width":52,"height":80,"title":"2nd D","data":{"name":"b"},"transform":[{"filter":"datum.r==2&&datum.p=='2nd D'"}],"mark":"bar","encoding":{"y":{"field":"c","type":"nominal","title":null,"scale":{"domain":["Max. systemic reaction","Oral temperature","Chills","Malaise","Myalgia","Headache","Nausea","Vomiting"],"paddingInner":0.32,"paddingOuter":0.2},"axis":{"labels":false}},"x":{"field":"v","type":"quantitative","title":null,"scale":{"domain":[0,1]},"axis":{"labelExpr":"datum.value==0.5?datum.label:''","tickOpacity":{"condition":{"test":"datum.value==0.5","value":0},"value":1}}},"color":{"field":"s","type":"nominal","title":null,"scale":{"domain":["Severe","Moderate","Mild"],"range":["#1a1a1a","#474747","#aaaaaa"]},"legend":null},"order":{"field":"k"}}},
{"width":52,"height":80,"title":"3rd D","data":{"name":"b"},"transform":[{"filter":"datum.r==2&&datum.p=='3rd D'"}],"mark":"bar","encoding":{"y":{"field":"c","type":"nominal","title":null,"scale":{"domain":["Max. systemic reaction","Oral temperature","Chills","Malaise","Myalgia","Headache","Nausea","Vomiting"],"paddingInner":0.32,"paddingOuter":0.2},"axis":{"labels":false}},"x":{"field":"v","type":"quantitative","title":null,"scale":{"domain":[0,1]},"axis":{"labelExpr":"datum.value==0.5?datum.label:''","tickOpacity":{"condition":{"test":"datum.value==0.5","value":0},"value":1}}},"color":{"field":"s","type":"nominal","title":null,"scale":{"domain":["Severe","Moderate","Mild"],"range":["#1a1a1a","#474747","#aaaaaa"]},"legend":null},"order":{"field":"k"}}},
{"width":52,"height":80,"title":"A","data":{"name":"b"},"transform":[{"filter":"datum.r==2&&datum.p=='A'"}],"mark":"bar","encoding":{"y":{"field":"c","type":"nominal","title":null,"scale":{"domain":["Max. systemic reaction","Oral temperature","Chills","Malaise","Myalgia","Headache","Nausea","Vomiting"],"paddingInner":0.32,"paddingOuter":0.2},"axis":{"labels":false}},"x":{"field":"v","type":"quantitative","title":null,"scale":{"domain":[0,1]},"axis":{"labelExpr":"datum.value==0.5?datum.label:''","tickOpacity":{"condition":{"test":"datum.value==0.5","value":0},"value":1}}},"color":{"field":"s","type":"nominal","title":null,"scale":{"domain":["Severe","Moderate","Mild"],"range":["#1a1a1a","#474747","#aaaaaa"]},"legend":null},"order":{"field":"k"}}},
{"width":52,"height":80,"title":"M","data":{"name":"b"},"transform":[{"filter":"datum.r==2&&datum.p=='M'"}],"mark":"bar","encoding":{"y":{"field":"c","type":"nominal","title":null,"scale":{"domain":["Max. systemic reaction","Oral temperature","Chills","Malaise","Myalgia","Headache","Nausea","Vomiting"],"paddingInner":0.32,"paddingOuter":0.2},"axis":{"labels":false}},"x":{"field":"v","type":"quantitative","title":null,"scale":{"domain":[0,1]},"axis":{"labelExpr":"datum.value==0?'':datum.label","tickOpacity":{"condition":{"test":"datum.value==0.5","value":0},"value":1}}},"color":{"field":"s","type":"nominal","title":null,"scale":{"domain":["Severe","Moderate","Mild"],"range":["#1a1a1a","#474747","#aaaaaa"]},"legend":null},"order":{"field":"k"}}},
{"width":52,"height":80,"title":"1st De","data":{"name":"b"},"transform":[{"filter":"datum.r==3&&datum.p=='1st De'"}],"mark":"bar","encoding":{"y":{"field":"c","type":"nominal","title":null,"scale":{"domain":["Max. systemic reaction","Oral temperature","Chills","Malaise","Myalgia","Headache","Nausea","Vomiting"],"paddingInner":0.32,"paddingOuter":0.2},"axis":{}},"x":{"field":"v","type":"quantitative","title":null,"scale":{"domain":[0,1]},"axis":{"labelExpr":"datum.value==1?'':datum.label","tickOpacity":{"condition":{"test":"datum.value==0.5","value":0},"value":1}}},"color":{"field":"s","type":"nominal","title":null,"scale":{"domain":["Severe","Moderate","Mild"],"range":["#1a1a1a","#474747","#aaaaaa"]},"legend":null},"order":{"field":"k"}}},
{"width":52,"height":80,"title":"3rd De","data":{"name":"b"},"transform":[{"filter":"datum.r==3&&datum.p=='3rd De'"}],"mark":"bar","encoding":{"y":{"field":"c","type":"nominal","title":null,"scale":{"domain":["Max. systemic reaction","Oral temperature","Chills","Malaise","Myalgia","Headache","Nausea","Vomiting"],"paddingInner":0.32,"paddingOuter":0.2},"axis":{"labels":false}},"x":{"field":"v","type":"quantitative","title":null,"scale":{"domain":[0,1]},"axis":{"labelExpr":"datum.value==0.5?datum.label:''","tickOpacity":{"condition":{"test":"datum.value==0.5","value":0},"value":1}}},"color":{"field":"s","type":"nominal","title":null,"scale":{"domain":["Severe","Moderate","Mild"],"range":["#1a1a1a","#474747","#aaaaaa"]},"legend":null},"order":{"field":"k"}}},
{"width":52,"height":80,"title":"2nd De","data":{"name":"b"},"transform":[{"filter":"datum.r==3&&datum.p=='2nd De'"}],"mark":"bar","encoding":{"y":{"field":"c","type":"nominal","title":null,"scale":{"domain":["Max. systemic reaction","Oral temperature","Chills","Malaise","Myalgia","Headache","Nausea","Vomiting"],"paddingInner":0.32,"paddingOuter":0.2},"axis":{"labels":false}},"x":{"field":"v","type":"quantitative","title":null,"scale":{"domain":[0,1]},"axis":{"labelExpr":"datum.value==0.5?datum.label:''","tickOpacity":{"condition":{"test":"datum.value==0.5","value":0},"value":1}}},"color":{"field":"s","type":"nominal","title":null,"scale":{"domain":["Severe","Moderate","Mild"],"range":["#1a1a1a","#474747","#aaaaaa"]},"legend":null},"order":{"field":"k"}}},
{"width":52,"height":80,"title":"A","data":{"name":"b"},"transform":[{"filter":"datum.r==3&&datum.p=='A'"}],"mark":"bar","encoding":{"y":{"field":"c","type":"nominal","title":null,"scale":{"domain":["Max. systemic reaction","Oral temperature","Chills","Malaise","Myalgia","Headache","Nausea","Vomiting"],"paddingInner":0.32,"paddingOuter":0.2},"axis":{"labels":false}},"x":{"field":"v","type":"quantitative","title":null,"scale":{"domain":[0,1]},"axis":{"labelExpr":"datum.value==0.5?datum.label:''","tickOpacity":{"condition":{"test":"datum.value==0.5","value":0},"value":1}}},"color":{"field":"s","type":"nominal","title":null,"scale":{"domain":["Severe","Moderate","Mild"],"range":["#1a1a1a","#474747","#aaaaaa"]},"legend":null},"order":{"field":"k"}}},
{"width":52,"height":80,"title":"M","data":{"name":"b"},"transform":[{"filter":"datum.r==3&&datum.p=='M'"}],"mark":"bar","encoding":{"y":{"field":"c","type":"nominal","title":null,"scale":{"domain":["Max. systemic reaction","Oral temperature","Chills","Malaise","Myalgia","Headache","Nausea","Vomiting"],"paddingInner":0.32,"paddingOuter":0.2},"axis":{"labels":false}},"x":{"field":"v","type":"quantitative","title":null,"scale":{"domain":[0,1]},"axis":{"labelExpr":"datum.value==0?'':datum.label","tickOpacity":{"condition":{"test":"datum.value==0.5","value":0},"value":1}}},"color":{"field":"s","type":"nominal","title":null,"scale":{"domain":["Severe","Moderate","Mild"],"range":["#1a1a1a","#474747","#aaaaaa"]},"legend":null},"order":{"field":"k"}}},
{"width":52,"height":80,"title":"1st P","data":{"name":"b"},"transform":[{"filter":"datum.r==4&&datum.p=='1st P'"}],"mark":"bar","encoding":{"y":{"field":"c","type":"nominal","title":null,"scale":{"domain":["Max. systemic reaction","Oral temperature","Chills","Malaise","Myalgia","Headache","Nausea","Vomiting"],"paddingInner":0.32,"paddingOuter":0.2},"axis":{}},"x":{"field":"v","type":"quantitative","title":null,"scale":{"domain":[0,1]},"axis":{"labelExpr":"datum.value==1?'':datum.label","tickOpacity":{"condition":{"test":"datum.value==0.5","value":0},"value":1}}},"color":{"field":"s","type":"nominal","title":null,"scale":{"domain":["Severe","Moderate","Mild"],"range":["#1a1a1a","#474747","#aaaaaa"]},"legend":null},"order":{"field":"k"}}},
{"width":52,"height":80,"title":"2nd P","data":{"name":"b"},"transform":[{"filter":"datum.r==4&&datum.p=='2nd P'"}],"mark":"bar","encoding":{"y":{"field":"c","type":"nominal","title":null,"scale":{"domain":["Max. systemic reaction","Oral temperature","Chills","Malaise","Myalgia","Headache","Nausea","Vomiting"],"paddingInner":0.32,"paddingOuter":0.2},"axis":{"labels":false}},"x":{"field":"v","type":"quantitative","title":null,"scale":{"domain":[0,1]},"axis":{"labelExpr":"datum.value==0.5?datum.label:''","tickOpacity":{"condition":{"test":"datum.value==0.5","value":0},"value":1}}},"color":{"field":"s","type":"nominal","title":null,"scale":{"domain":["Severe","Moderate","Mild"],"range":["#1a1a1a","#474747","#aaaaaa"]},"legend":null},"order":{"field":"k"}}},
{"width":52,"height":80,"title":"3rd P","data":{"name":"b"},"transform":[{"filter":"datum.r==4&&datum.p=='3rd P'"}],"mark":"bar","encoding":{"y":{"field":"c","type":"nominal","title":null,"scale":{"domain":["Max. systemic reaction","Oral temperature","Chills","Malaise","Myalgia","Headache","Nausea","Vomiting"],"paddingInner":0.32,"paddingOuter":0.2},"axis":{"labels":false}},"x":{"field":"v","type":"quantitative","title":"Proportion of volunteers with adverse event","scale":{"domain":[0,1]},"axis":{"labelExpr":"datum.value==0.5?datum.label:''","tickOpacity":{"condition":{"test":"datum.value==0.5","value":0},"value":1}}},"color":{"field":"s","type":"nominal","title":null,"scale":{"domain":["Severe","Moderate","Mild"],"range":["#1a1a1a","#474747","#aaaaaa"]},"legend":null},"order":{"field":"k"}}},
{"width":52,"height":80,"title":"4th P","data":{"name":"b"},"transform":[{"filter":"datum.r==4&&datum.p=='4th P'"}],"mark":"bar","encoding":{"y":{"field":"c","type":"nominal","title":null,"scale":{"domain":["Max. systemic reaction","Oral temperature","Chills","Malaise","Myalgia","Headache","Nausea","Vomiting"],"paddingInner":0.32,"paddingOuter":0.2},"axis":{"labels":false}},"x":{"field":"v","type":"quantitative","title":null,"scale":{"domain":[0,1]},"axis":{"labelExpr":"datum.value==0.5?datum.label:''","tickOpacity":{"condition":{"test":"datum.value==0.5","value":0},"value":1}}},"color":{"field":"s","type":"nominal","title":null,"scale":{"domain":["Severe","Moderate","Mild"],"range":["#1a1a1a","#474747","#aaaaaa"]},"legend":null},"order":{"field":"k"}}},
{"width":52,"height":80,"title":"5th P","data":{"name":"b"},"transform":[{"filter":"datum.r==4&&datum.p=='5th P'"}],"mark":"bar","encoding":{"y":{"field":"c","type":"nominal","title":null,"scale":{"domain":["Max. systemic reaction","Oral temperature","Chills","Malaise","Myalgia","Headache","Nausea","Vomiting"],"paddingInner":0.32,"paddingOuter":0.2},"axis":{"labels":false}},"x":{"field":"v","type":"quantitative","title":null,"scale":{"domain":[0,1]},"axis":{"labelExpr":"datum.value==0?'':datum.label","tickOpacity":{"condition":{"test":"datum.value==0.5","value":0},"value":1}}},"color":{"field":"s","type":"nominal","title":null,"scale":{"domain":["Severe","Moderate","Mild"],"range":["#1a1a1a","#474747","#aaaaaa"]},"legend":null},"order":{"field":"k"}}}
]
}
],
"spacing":14,
"resolve":{"scale":{"color":"independent"},"legend":{"color":"independent"}}
}
